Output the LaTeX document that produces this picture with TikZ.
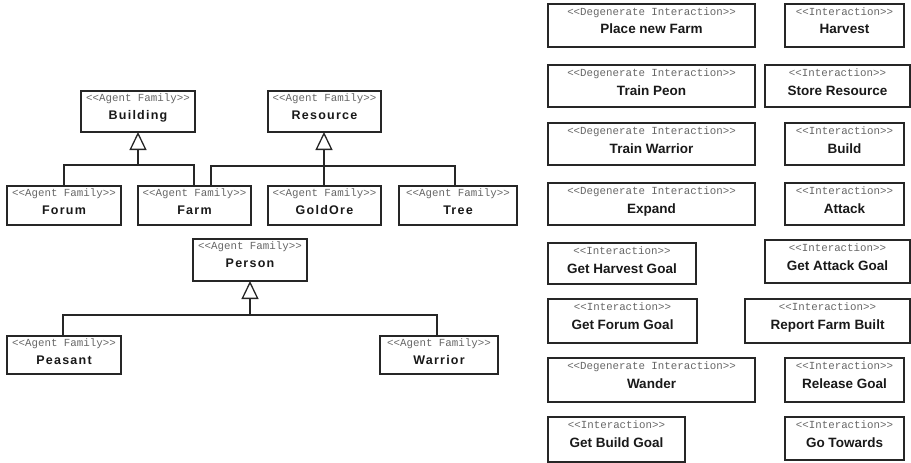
\documentclass[tikz,border=0pt]{standalone}
\usepackage{fontspec}
\setmainfont{Liberation Sans}
\newfontfamily\stereofont{Liberation Mono}
\newfontfamily\trackfont[LetterSpace=10]{Liberation Sans}
\usetikzlibrary{arrows.meta,calc,fit}
\tikzset{
  boxline/.style={draw=black!85, line width=1.3pt},
  umlbox/.style={boxline, inner sep=0pt, outer sep=0pt},
  stereo/.style={anchor=base, inner sep=0pt, text=black!60,
    font=\stereofont\fontsize{10.8}{12}\selectfont},
  afname/.style={anchor=base, inner sep=0pt, text=black!90,
    font=\trackfont\bfseries\fontsize{12.5}{14}\selectfont},
  ianame/.style={anchor=base, inner sep=0pt, text=black!90,
    font=\bfseries\fontsize{13.5}{15}\selectfont},
  inherit/.style={boxline, -{Triangle[open,length=18pt,width=17pt]}},
}
% agent family box: name, x1, y1, x2, y2, title
\newcommand\afbox[6]{%
  \node[umlbox, fit={(#2,#3) (#4,#5)}] (#1) {};
  \node[stereo] (#1-s) at ($(#1.north)+(0,10.5)$) {<<Agent Family>>};
  \node[afname] (#1-t) at ($(#1.north)+(0,28.5)$) {#6};
}
% interaction box: name, x1, y1, x2, y2, stereotype, title
\newcommand\iabox[7]{%
  \node[umlbox, fit={(#2,#3) (#4,#5)}] (#1) {};
  \node[stereo] (#1-s) at ($(#1.north)+(0,11.5)$) {<<#6>>};
  \node[ianame] (#1-t) at ($(#1.north)+(0,30)$) {#7};
}
\begin{document}
\begin{tikzpicture}[x=1pt,y=-1pt]
\useasboundingbox (0,0) rectangle (911,463);
% ---- agent families ----
\afbox{building}{81}{91}{195}{132}{Building}
\afbox{resource}{268}{91}{381}{132}{Resource}
\afbox{forum}{7}{186}{121}{225}{Forum}
\afbox{farm}{138}{186}{251}{225}{Farm}
\afbox{goldore}{268}{186}{381}{225}{GoldOre}
\afbox{tree}{399}{186}{517}{225}{Tree}
\afbox{person}{193}{239}{307}{281}{Person}
\afbox{peasant}{7}{336}{121}{374}{Peasant}
\afbox{warrior}{380}{336}{498}{374}{Warrior}
% junctions
\coordinate (bj) at ($(building.south)+(0,33)$);
\coordinate (rj) at ($(resource.south)+(-0.5,34)$);
\coordinate (pj) at ($(person.south)+(0,34)$);
% inheritance connectors
\draw[inherit] (bj) -- (building.south);
\draw[boxline] (forum.north) |- (bj) -| ([xshift=-0.5pt]farm.north);
\draw[inherit] ([xshift=-0.5pt]goldore.north) -- ([xshift=-0.5pt]resource.south);
\draw[boxline] ([xshift=16.5pt]farm.north) |- (rj) -| ([xshift=-3pt]tree.north);
\draw[inherit] (pj) -- (person.south);
\draw[boxline] ([xshift=-1pt]peasant.north) |- (pj) -| ([xshift=-2pt]warrior.north);
% ---- interactions ----
\iabox{placefarm}{548}{4}{755}{47}{Degenerate Interaction}{Place new Farm}
\iabox{harvest}{785}{4}{904}{47}{Interaction}{Harvest}
\iabox{trainpeon}{548}{65}{755}{107}{Degenerate Interaction}{Train Peon}
\iabox{store}{765}{65}{910}{107}{Interaction}{Store Resource}
\iabox{trainwarrior}{548}{123}{755}{165}{Degenerate Interaction}{Train Warrior}
\iabox{build}{785}{123}{904}{165}{Interaction}{Build}
\iabox{expand}{548}{183}{755}{225}{Degenerate Interaction}{Expand}
\iabox{attack}{785}{183}{904}{225}{Interaction}{Attack}
\iabox{harvestgoal}{548}{243}{696}{284}{Interaction}{Get Harvest Goal}
\iabox{attackgoal}{765}{240}{910}{283}{Interaction}{Get Attack Goal}
\iabox{forumgoal}{548}{299}{697}{343}{Interaction}{Get Forum Goal}
\iabox{reportfarm}{745}{299}{910}{343}{Interaction}{Report Farm Built}
\iabox{wander}{548}{358}{755}{402}{Degenerate Interaction}{Wander}
\iabox{release}{785}{358}{904}{402}{Interaction}{Release Goal}
\iabox{buildgoal}{548}{417}{685}{462}{Interaction}{Get Build Goal}
\iabox{towards}{785}{417}{904}{460}{Interaction}{Go Towards}
\end{tikzpicture}
\end{document}
